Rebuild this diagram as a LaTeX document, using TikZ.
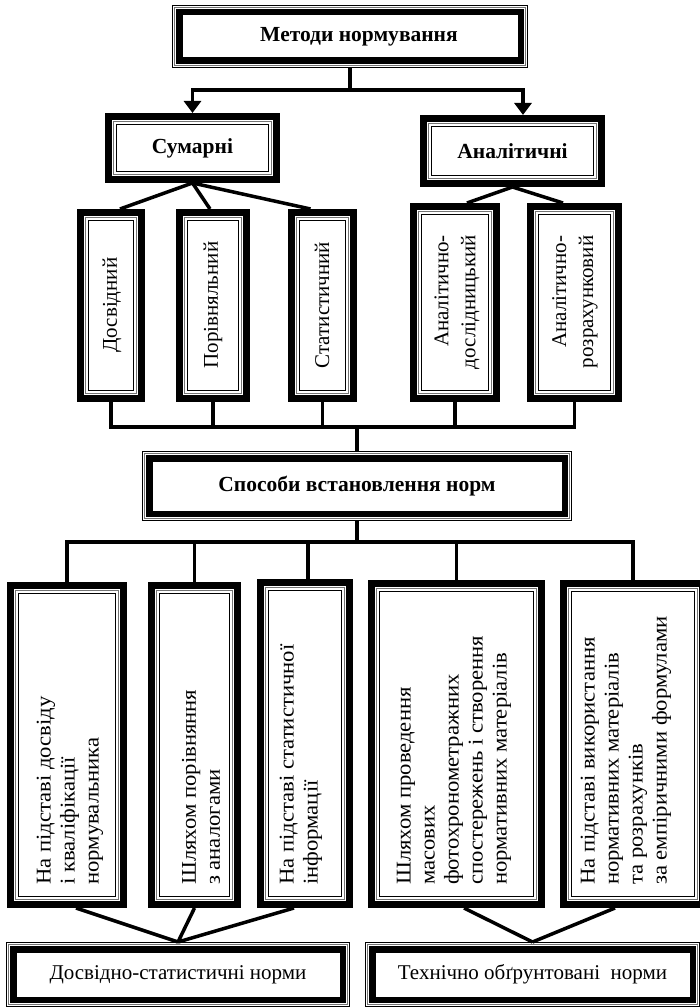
\documentclass[tikz,border=0pt]{standalone}
\usepackage{fontspec}
\setmainfont{Liberation Serif}
\newfontfamily\tallfont[FakeStretch=1.08]{Liberation Serif}
\usetikzlibrary{arrows.meta}
\tikzset{
  thinrule/.style={line width=0.9pt},
  grayrule/.style={line width=0.7pt, black!55},
  thickrule/.style={line width=6.5pt},
  conn/.style={line width=3.5pt},
  arr/.style={conn, -{Triangle[width=17pt,length=12pt]}},
  frm/.style={inner sep=0pt, outer sep=0pt, align=center},
  hdr/.style={font=\bfseries\fontsize{21.5}{24}\selectfont},
  lbl/.style={font=\fontsize{21}{24}\selectfont},
  big/.style={font=\tallfont\fontsize{21}{24}\selectfont},
  vlbl/.style={big, rotate=90, inner sep=0pt, align=left, anchor=west},
  vctr/.style={font=\fontsize{21}{27}\selectfont, rotate=90, inner sep=0pt, align=right, anchor=center},
}
\newcommand\fthinthick[1]{%
  \draw[thinrule] ([shift={(0.45,0.45)}]#1.north west) rectangle ([shift={(-0.45,-0.45)}]#1.south east);
  \draw[grayrule] ([shift={(2.3,2.3)}]#1.north west) rectangle ([shift={(-2.3,-2.3)}]#1.south east);
  \draw[thickrule] ([shift={(7.25,7.25)}]#1.north west) rectangle ([shift={(-7.25,-7.25)}]#1.south east);
}
\newcommand\fthickthin[1]{%
  \draw[thickrule, line width=7pt] ([shift={(3.5,3.5)}]#1.north west) rectangle ([shift={(-3.5,-3.5)}]#1.south east);
  \draw[grayrule] ([shift={(8.8,8.8)}]#1.north west) rectangle ([shift={(-8.8,-8.8)}]#1.south east);
  \draw[thinrule] ([shift={(11.2,11.2)}]#1.north west) rectangle ([shift={(-11.2,-11.2)}]#1.south east);
}
\begin{document}
\begin{tikzpicture}[x=1pt, y=-1pt]
\useasboundingbox[fill=white] (0,0) rectangle (699,1008);

% ---------- level 1 ----------
\node[frm, minimum width=356pt, minimum height=63pt] (top) at (350,36.5) {};
\node[hdr, inner sep=0pt] (topt) at (359,37) {Методи нормування};
% ---------- level 2 ----------
\node[frm, hdr, minimum width=175pt, minimum height=70pt] (sum) at (192.5,148) {Сумарні};
\node[frm, hdr, minimum width=185pt, minimum height=72pt] (anal) at (512.5,151) {Аналітичні};
% ---------- level 3 ----------
\node[frm, minimum width=68pt, minimum height=193pt] (d1) at (111,305.5) {};
\node[frm, minimum width=74pt, minimum height=193pt] (d2) at (213,305.5) {};
\node[frm, minimum width=69pt, minimum height=193pt] (d3) at (322.5,305.5) {};
\node[frm, minimum width=90pt, minimum height=199pt] (d4) at (455,302.5) {};
\node[frm, minimum width=95pt, minimum height=199pt] (d5) at (574.5,302.5) {};
\node[vctr] (d1t) at (112,305) {Досвідний};
\node[vctr] (d2t) at (213,305) {Порівняльний};
\node[vctr] (d3t) at (322,305) {Статистичний};
\node[vctr] (d4t) at (457,302) {Аналітично-\\дослідницький};
\node[vctr] (d5t) at (575,302) {Аналітично-\\розрахунковий};
% ---------- level 4 ----------
\node[frm, hdr, minimum width=430pt, minimum height=70pt] (spos) at (357,486) {Способи встановлення норм};
% ---------- level 5 ----------
\node[frm, minimum width=120pt, minimum height=326pt] (t1) at (67,745) {};
\node[frm, minimum width=93pt, minimum height=326pt] (t2) at (194.5,745) {};
\node[frm, minimum width=96pt, minimum height=329pt] (t3) at (305,743.5) {};
\node[frm, minimum width=177pt, minimum height=328pt] (t4) at (456.5,744) {};
\node[frm, minimum width=146pt, minimum height=328pt] (t5) at (633,744) {};
\node[vlbl] (t1t) at (70,885) {На підставі досвіду\\і кваліфікації\\нормувальника};
\node[vlbl] (t2t) at (201,885) {Шляхом порівняння\\з аналогами};
\node[vlbl] (t3t) at (301,885) {На підставі статистичної\\інформації};
\node[vlbl] (t4t) at (454,885) {Шляхом проведення\\масових\\фотохронометражних\\спостережень і створення\\нормативних матеріалів};
\node[vlbl] (t5t) at (626,885) {На підставі використання\\нормативних матеріалів\\та розрахунків\\за емпіричними формулами};
% ---------- level 6 ----------
\node[frm, lbl, minimum width=344pt, minimum height=65pt] (n1) at (178,974.5) {Досвідно-статистичні норми};
\node[frm, lbl, minimum width=335pt, minimum height=65pt] (n2) at (532.5,974.5) {Технічно обґрунтовані\ \ норми};

% ---------- frames ----------
\fthinthick{top}
\fthickthin{sum}
\fthickthin{anal}
\fthickthin{d1}\fthickthin{d2}\fthickthin{d3}\fthickthin{d4}\fthickthin{d5}
\fthinthick{spos}
\fthickthin{t1}\fthickthin{t2}\fthickthin{t3}\fthickthin{t4}\fthickthin{t5}
\fthinthick{n1}\fthinthick{n2}

% ---------- connectors ----------
\coordinate (j1) at (350,90);
\draw[conn] (top.south) -- (j1);
\draw[arr] (j1) -| (sum.north);
\draw[arr] (j1) -| ([xshift=10.5pt]anal.north);

\draw[conn] (sum.south) -- ([xshift=9pt]d1.north);
\draw[conn] (sum.south) -- ([xshift=-3pt]d2.north);
\draw[conn] (sum.south) -- ([xshift=-12pt]d3.north);
\draw[conn] (anal.south) -- ([xshift=12pt]d4.north);
\draw[conn] (anal.south) -- ([xshift=-11.5pt]d5.north);

\coordinate (bus1) at (357,427);
\draw[conn] (d1.south) -- (d1.south |- bus1) -- (d5.south |- bus1) -- (d5.south);
\draw[conn] (d2.south) -- (d2.south |- bus1);
\draw[conn] (d3.south) -- (d3.south |- bus1);
\draw[conn] (d4.south) -- (d4.south |- bus1);
\draw[conn] (bus1) -- (spos.north);

\coordinate (bus2) at (357,542);
\draw[conn] (spos.south) -- (bus2);
\draw[conn] (t1.north) -- (t1.north |- bus2) -- (t5.north |- bus2) -- (t5.north);
\draw[conn] (t2.north) -- (t2.north |- bus2);
\draw[conn] ([xshift=3pt]t3.north) -- ([xshift=3pt]t3.north |- bus2);
\draw[conn] (t4.north) -- (t4.north |- bus2);

\draw[conn] ([xshift=9pt]t1.south) -- (n1.north);
\draw[conn] (t2.south) -- (n1.north);
\draw[conn] ([xshift=-11pt]t3.south) -- (n1.north);
\draw[conn] ([xshift=7.5pt]t4.south) -- (n2.north);
\draw[conn] ([xshift=-18pt]t5.south) -- (n2.north);
\end{tikzpicture}
\end{document}
